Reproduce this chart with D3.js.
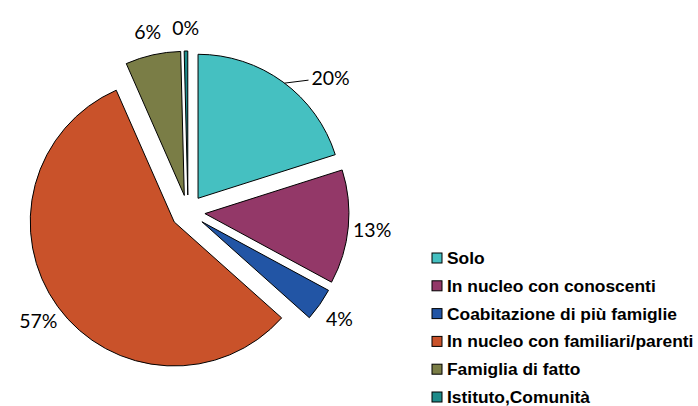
<!DOCTYPE html>
<html>
  <head>
    <meta charset="utf-8">
    <title>pie chart</title>
    <script src="https://cdn.jsdelivr.net/npm/d3@7/dist/d3.min.js" charset="utf-8"></script>
<style>
body { margin: 0; background: #ffffff; }
.slice { stroke: #000000; stroke-width: 1; }
.pct { font-family: Lato, "Open Sans", sans-serif; font-size: 19.5px; fill: #000000; }
.leg { font-family: "Liberation Sans", Arial, sans-serif; font-weight: bold; font-size: 17.4px; fill: #000000; }
</style>
  </head>
  <body>
    <svg></svg>
    <script>
      var categories = ["Solo", "In nucleo con conoscenti", "Coabitazione di più famiglie",
                        "In nucleo con familiari/parenti", "Famiglia di fatto", "Istituto,Comunità"];
      var values = [20.1, 12.8, 3.7, 56.8, 6.2, 0.4];
      var colors = ["#45C0C1", "#933868", "#2255A5", "#C9522A", "#7A7D46", "#1E8B8A"];

      var width = 698, height = 406;
      var cx = 188, cy = 212, radius = 144, explode = 17;

      var svg = d3.select("svg").attr("width", width).attr("height", height);

      var total = d3.sum(values);
      var pie = d3.pie().sort(null).value(function(d){ return d; });
      var arcs = pie(values);
      var arc = d3.arc().innerRadius(0).outerRadius(radius);

      function offset(a, dist){
        var m = (a.startAngle + a.endAngle) / 2;
        return [Math.sin(m) * dist, -Math.cos(m) * dist];
      }

      var g = svg.append("g").attr("transform", "translate(" + cx + "," + cy + ")");

      g.selectAll("path").data(arcs).enter()
        .append("path")
          .attr("class", "slice")
          .attr("d", arc)
          .attr("fill", function(d, i){ return colors[i]; })
          .attr("transform", function(d){ var o = offset(d, explode); return "translate(" + o[0] + "," + o[1] + ")"; });

      // percentage labels, outside each exploded slice
      arcs.forEach(function(d, i){
        var o = offset(d, explode);
        var pct = Math.round(d.value / total * 100) + "%";
        if (i === 0) {
          // first label sits aside, joined by a leader line
          var a0 = d.startAngle + (d.endAngle - d.startAngle) * 0.51;
          var p0 = [o[0] + Math.sin(a0) * radius, o[1] - Math.cos(a0) * radius];
          var p1 = [p0[0] + 24, p0[1] - 3];
          g.append("line").attr("x1", p0[0]).attr("y1", p0[1]).attr("x2", p1[0]).attr("y2", p1[1])
            .attr("stroke", "#000").attr("stroke-width", 1);
          g.append("text").attr("class", "pct")
            .attr("x", p1[0] + 3).attr("y", p1[1] - 3)
            .attr("dominant-baseline", "central")
            .text(pct);
        } else {
          var lp = offset(d, explode + radius + 24);
          g.append("text").attr("class", "pct")
            .attr("x", lp[0]).attr("y", lp[1])
            .attr("text-anchor", "middle")
            .attr("dominant-baseline", "central")
            .text(pct);
        }
      });

      // legend
      var legY = d3.scalePoint().domain(categories).range([258, 397]);
      var leg = svg.append("g").selectAll("g").data(categories).enter()
        .append("g")
          .attr("transform", function(d){ return "translate(432," + legY(d) + ")"; });
      leg.append("rect")
        .attr("x", 0).attr("y", -5).attr("width", 10).attr("height", 10)
        .attr("fill", function(d, i){ return colors[i]; })
        .attr("stroke", "#000").attr("stroke-width", 1);
      leg.append("text").attr("class", "leg")
        .attr("x", 15).attr("y", 0)
        .attr("dominant-baseline", "central")
        .text(function(d){ return d; });
    </script>
  </body>
</html>
